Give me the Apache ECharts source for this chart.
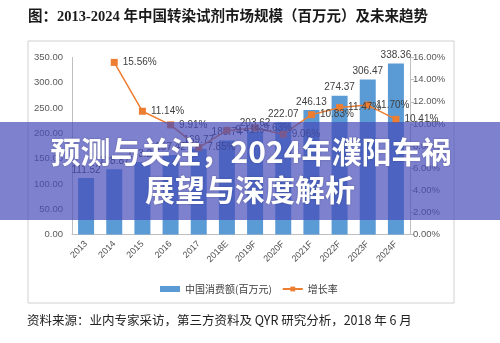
<!DOCTYPE html>
<html><head><meta charset="utf-8">
<script src="https://cdn.jsdelivr.net/npm/echarts@6/dist/echarts.min.js"></script>
<style>html,body{margin:0;padding:0;background:#fff}#c{width:500px;height:343px}</style>
</head><body><div id="c"></div>
<script>
const categories = ['2013','2014','2015','2016','2017','2018E','2019F','2020F','2021F','2022F','2023F','2024F'];
const consumption = [111.52,128.87,143.23,157.42,169.77,185.74,203.62,222.07,246.13,274.37,306.47,338.36];
const growth = [null,15.56,11.14,9.91,7.85,9.41,9.63,9.06,10.83,11.47,11.70,10.41];
const leftTicks = {min:0,max:350,interval:50};
const rightTicks = {min:0,max:16,interval:2};
const titleText = '图：2013-2024 年中国转染试剂市场规模（百万元）及未来趋势';
const sourceText = '资料来源：业内专家采访，第三方资料及 QYR 研究分析，2018 年 6 月';
const bannerLines = ['预测与关注，2024年濮阳车祸','展望与深度解析'];
const seriesNames = ['中国消费额(百万元)','增长率'];

const chart = echarts.init(document.getElementById('c'), null, {renderer:'canvas'});
const axisFont = {fontSize:9.5, color:'#595959', fontFamily:'Liberation Sans, Arial, sans-serif'};
chart.setOption({
  animation:false,
  backgroundColor:'#fff',
  grid:{left:72, right:90, top:57.5, bottom:108.5},
  legend:{
    left:155, top:279, itemGap:10,
    textStyle:{fontSize:10, color:'#404040', fontFamily:'Noto Sans CJK SC, sans-serif'},
    data:[{name:seriesNames[0], icon:'rect', itemStyle:{color:'#5B9BD5'}},{name:seriesNames[1]}],
    itemWidth:20, itemHeight:6
  },
  xAxis:{type:'category', data:categories,
    axisLine:{lineStyle:{color:'#bfbfbf'}}, axisTick:{show:false},
    axisLabel:{rotate:45, interval:0, margin:8, fontSize:9, color:'#505050', fontFamily:'Liberation Sans, Arial, sans-serif'}},
  yAxis:[
    {type:'value', min:leftTicks.min, max:leftTicks.max, interval:leftTicks.interval,
     axisLine:{show:true, lineStyle:{color:'#bfbfbf'}}, axisTick:{show:false}, splitLine:{show:false},
     axisLabel:Object.assign({margin:9, formatter:v=>v.toFixed(2)}, axisFont)},
    {type:'value', min:rightTicks.min, max:rightTicks.max, interval:rightTicks.interval,
     axisLine:{show:true, lineStyle:{color:'#bfbfbf'}}, axisTick:{show:true, length:4, lineStyle:{color:'#bfbfbf'}}, splitLine:{show:false},
     axisLabel:Object.assign({margin:3, formatter:v=>v.toFixed(2)+'%'}, axisFont)}
  ],
  series:[
    {name:seriesNames[0], type:'bar', data:consumption, barWidth:16,
     itemStyle:{color:'#5B9BD5'},
     label:{show:true, position:'top', distance:3, fontSize:10, color:'#404040', fontFamily:'Liberation Sans, Arial, sans-serif', formatter:p=>p.value.toFixed(2)}},
    {name:seriesNames[1], type:'line', yAxisIndex:1, data:growth,
     symbol:'rect', symbolSize:7, lineStyle:{color:'#ED7D31', width:1.5}, itemStyle:{color:'#ED7D31'},
     label:{show:true, position:'right', distance:5, fontSize:10, color:'#404040', fontFamily:'Liberation Sans, Arial, sans-serif', formatter:p=>p.value.toFixed(2)+'%'}}
  ],
  graphic:[
    {type:'rect', z:-1, shape:{x:28, y:41, width:426, height:262}, style:{fill:'none', stroke:'#d0d0d0', lineWidth:1}},
    {type:'text', left:28, top:10, style:{text:titleText, fontSize:14.5, fontWeight:'bold', fill:'#1a1a1a', fontFamily:'Liberation Serif, Noto Sans CJK SC, serif'}},
    {type:'text', left:27, top:314, style:{text:sourceText, fontSize:12.5, fill:'#222', fontFamily:'Noto Sans CJK SC, sans-serif'}},
    {type:'rect', z:100, shape:{x:0, y:122, width:500, height:98}, style:{fill:'rgba(70,75,185,0.7)'}},
    {type:'text', z:101, x:251, y:152, style:{text:bannerLines[0], fontSize:30, fontWeight:'bold', fill:'#fff', align:'center', verticalAlign:'middle', fontFamily:'Noto Sans CJK SC, sans-serif', textShadowColor:'rgba(0,0,0,0.25)', textShadowBlur:2}},
    {type:'text', z:101, x:250, y:190, style:{text:bannerLines[1], fontSize:30, fontWeight:'bold', fill:'#fff', align:'center', verticalAlign:'middle', fontFamily:'Noto Sans CJK SC, sans-serif', textShadowColor:'rgba(0,0,0,0.25)', textShadowBlur:2}}
  ]
});
</script></body></html>
